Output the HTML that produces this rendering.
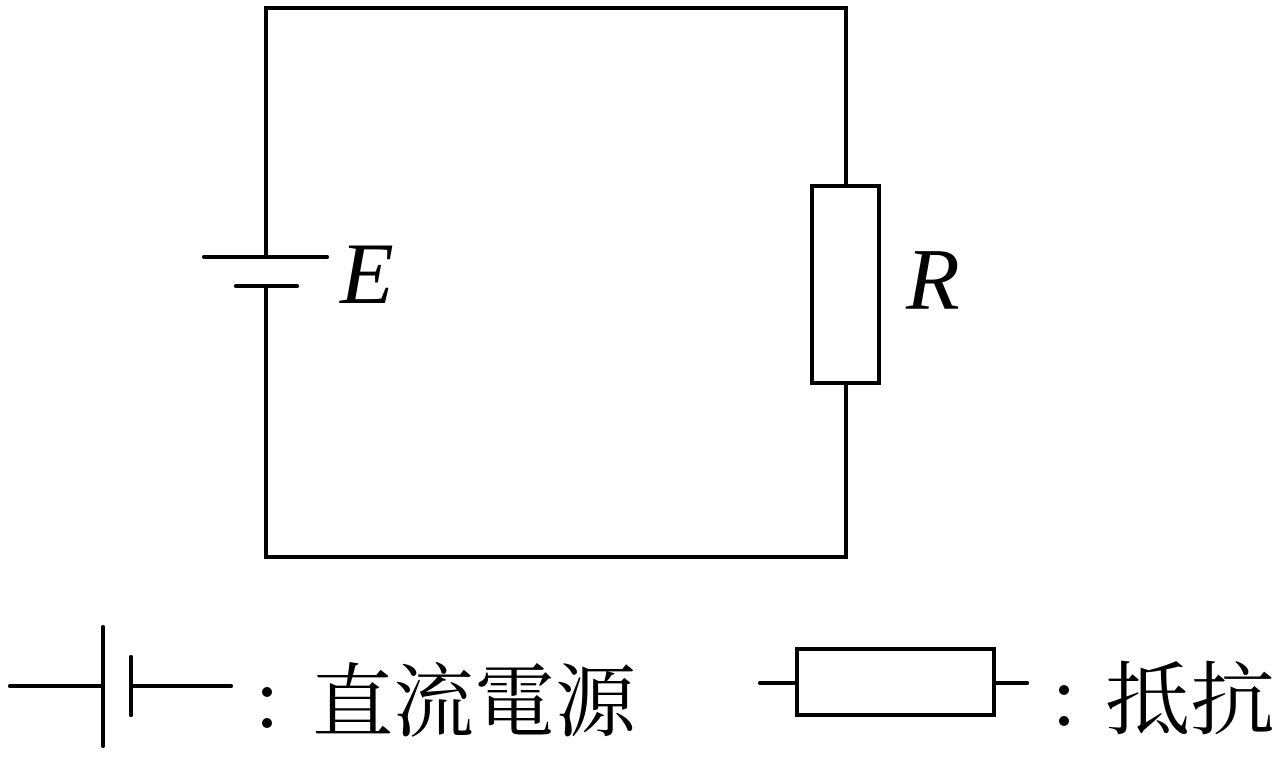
<!DOCTYPE html>
<html><head><meta charset="utf-8"><style>
html,body{margin:0;padding:0;background:#fff;width:1280px;height:758px;overflow:hidden}
.it{font-family:"Liberation Serif","Times New Roman","DejaVu Serif",serif;font-style:italic;font-size:88px}
.cj{font-family:"Noto Serif CJK SC","Noto Serif CJK JP",serif;font-size:80px}
</style></head><body>
<svg width="1280" height="758" xmlns="http://www.w3.org/2000/svg">
<g stroke="#000" stroke-width="4" fill="none" stroke-linecap="round">
<polyline points="266,257 266,8 846,8 846,185"/>
<polyline points="266,286 266,557 846,557 846,383"/>
<rect x="812" y="186" width="67" height="197" fill="#fff"/>
<line x1="204" y1="257" x2="327" y2="257"/>
<line x1="236" y1="286" x2="297" y2="286"/>
<line x1="10" y1="686" x2="103" y2="686"/>
<line x1="103" y1="627" x2="103" y2="746"/>
<line x1="131" y1="657" x2="131" y2="715"/>
<line x1="131" y1="686" x2="231" y2="686"/>
<line x1="760" y1="683" x2="797" y2="683"/>
<rect x="797" y="649" width="197" height="66"/>
<line x1="994" y1="683" x2="1027" y2="683"/>
</g>
<text class="it" x="340" y="303" fill="#000">E</text>
<text class="it" x="906" y="309" fill="#000">R</text>
<g fill="#000">
<circle cx="267" cy="692" r="5"/><circle cx="267" cy="723" r="5"/>
<text class="cj" x="312" y="730" textLength="324" lengthAdjust="spacingAndGlyphs">直流電源</text>
<circle cx="1064" cy="690" r="5"/><circle cx="1064" cy="721" r="5"/>
<text class="cj" x="1105" y="728" textLength="170" lengthAdjust="spacingAndGlyphs">抵抗</text>
</g>
</svg>
</body></html>
